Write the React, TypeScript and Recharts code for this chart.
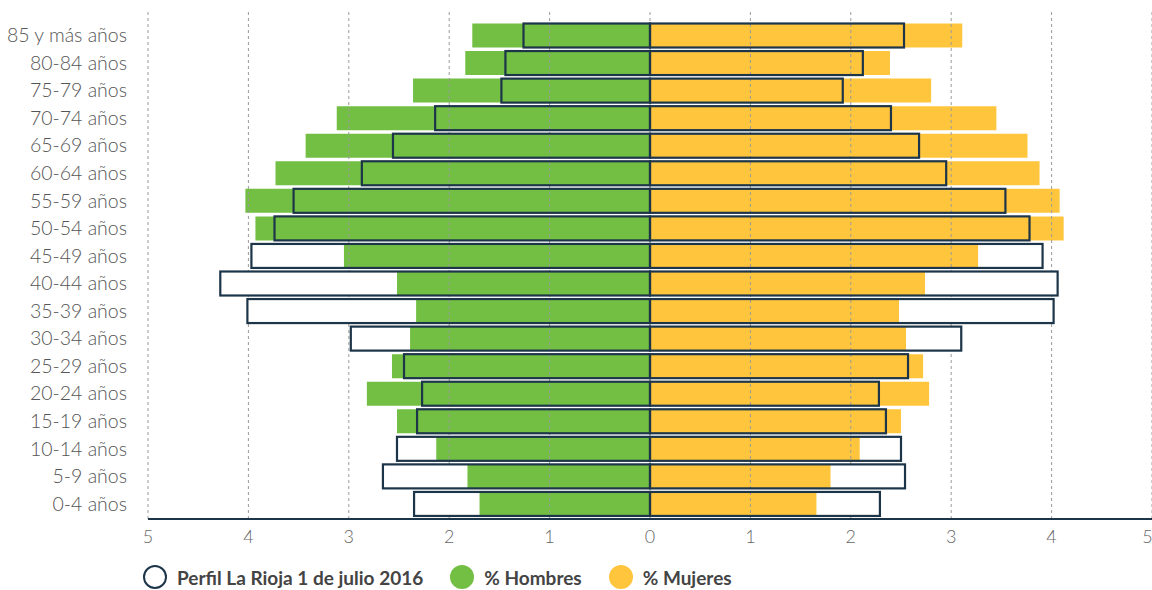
import React from "react";
import {
  BarChart,
  Bar,
  XAxis,
  YAxis,
  CartesianGrid,
  Legend,
} from "recharts";

const FONT = "Lato, 'Open Sans', sans-serif";
const GREEN = "#72bf44";
const YELLOW = "#ffc53d";
const NAVY = "#1d3549";

// grupos de edad, de arriba abajo
const edades = [
  "85 y más años", "80-84 años", "75-79 años", "70-74 años", "65-69 años",
  "60-64 años", "55-59 años", "50-54 años", "45-49 años", "40-44 años",
  "35-39 años", "30-34 años", "25-29 años", "20-24 años", "15-19 años",
  "10-14 años", "5-9 años", "0-4 años",
];
const hombres = [1.77, 1.84, 2.36, 3.12, 3.43, 3.73, 4.03, 3.93, 3.05, 2.52, 2.33, 2.39, 2.57, 2.82, 2.52, 2.13, 1.82, 1.7];
const mujeres = [3.11, 2.39, 2.8, 3.45, 3.76, 3.88, 4.08, 4.12, 3.27, 2.74, 2.48, 2.55, 2.72, 2.78, 2.5, 2.09, 1.8, 1.66];
// perfil La Rioja 1 de julio 2016
const perfilH = [1.26, 1.44, 1.48, 2.14, 2.56, 2.87, 3.55, 3.74, 3.97, 4.28, 4.01, 2.98, 2.45, 2.27, 2.32, 2.52, 2.66, 2.35];
const perfilM = [2.53, 2.12, 1.92, 2.4, 2.68, 2.95, 3.54, 3.78, 3.91, 4.06, 4.02, 3.1, 2.57, 2.28, 2.35, 2.5, 2.54, 2.29];
const xTicks = [-5, -4, -3, -2, -1, 0, 1, 2, 3, 4, 5];

const data = edades.map((name, i) => ({
  name,
  hombres: hombres[i],
  mujeres: mujeres[i],
  perfilH: perfilH[i],
  perfilM: perfilM[i],
  h: -hombres[i],
  m: mujeres[i],
  ph: -perfilH[i],
  pm: perfilM[i],
}));

// outline of the 2016 profile: white where it exceeds the coloured bar, navy border
const perfilShape = (side: "h" | "m") => (props: any) => {
  const { x, y, width, height, payload } = props;
  const x0 = Math.min(x, x + width);
  const w = Math.abs(width);
  const outer = side === "h" ? payload.perfilH : payload.perfilM;
  const inner = side === "h" ? payload.hombres : payload.mujeres;
  let white = null;
  if (inner < outer && w > 0) {
    const ww = w * (1 - inner / outer);
    white = (
      <rect x={side === "h" ? x0 : x0 + w - ww} y={y} width={ww} height={height} fill="#fff" />
    );
  }
  return (
    <g>
      {white}
      <rect x={x0} y={y} width={w} height={height} fill="none" stroke={NAVY} strokeWidth={2.2} />
    </g>
  );
};

const legendItems = [
  { label: "Perfil La Rioja 1 de julio 2016", fill: "#fff", border: NAVY },
  { label: "% Hombres", fill: GREEN, border: GREEN },
  { label: "% Mujeres", fill: YELLOW, border: YELLOW },
];

const renderLegend = () => (
  <div style={{ display: "flex", alignItems: "center", fontFamily: FONT, fontSize: 19, fontWeight: 700, color: "#444" }}>
    {legendItems.map((it) => (
      <div key={it.label} style={{ display: "flex", alignItems: "center", marginRight: 27 }}>
        <span
          style={{
            width: 20,
            height: 20,
            borderRadius: "50%",
            background: it.fill,
            border: `2.5px solid ${it.border}`,
            marginRight: 10,
            display: "inline-block",
          }}
        />
        <span>{it.label}</span>
      </div>
    ))}
  </div>
);

export default function App() {
  return (
    <div style={{ position: "absolute", left: 0, top: 0, width: 1152, height: 590, background: "#fff" }}>
      <BarChart
        width={1152}
        height={590}
        data={data}
        layout="vertical"
        stackOffset="sign"
        margin={{ top: 12, right: 0, left: 0, bottom: 41 }}
      >
        <XAxis
          type="number"
          domain={[-5, 5]}
          ticks={xTicks}
          tickFormatter={(v: number) => String(Math.abs(v))}
          axisLine={{ stroke: NAVY, strokeWidth: 2 }}
          tickLine={false}
          tickSize={0}
          tickMargin={11}
          height={30}
          tick={{ fontSize: 18, fill: "#666", fontFamily: FONT, fontWeight: 300 }}
        />
        <YAxis
          yAxisId="main"
          type="category"
          dataKey="name"
          width={148}
          interval={0}
          axisLine={false}
          tickLine={false}
          tickSize={0}
          tickMargin={21}
          padding={{ top: 9.5, bottom: 1.5 }}
          tick={{ fontSize: 19.5, fill: "#555", fontFamily: FONT, fontWeight: 300 }}
        />
        <YAxis yAxisId="perfil" type="category" dataKey="name" hide padding={{ top: 9.5, bottom: 1.5 }} />
        <Bar yAxisId="main" dataKey="h" stackId="c" fill={GREEN} barSize={24} isAnimationActive={false} />
        <Bar yAxisId="main" dataKey="m" stackId="c" fill={YELLOW} barSize={24} isAnimationActive={false} />
        <CartesianGrid horizontal={false} stroke="#9a9a9a" strokeDasharray="3 3" zIndex={350} />
        <Bar yAxisId="perfil" dataKey="ph" stackId="o" barSize={24} shape={perfilShape("h")} zIndex={400} isAnimationActive={false} />
        <Bar yAxisId="perfil" dataKey="pm" stackId="o" barSize={24} shape={perfilShape("m")} zIndex={400} isAnimationActive={false} />
        <Legend
          layout="horizontal"
          verticalAlign="middle"
          align="center"
          content={renderLegend}
          wrapperStyle={{ left: 143, top: 565, width: "auto", height: "auto" }}
        />
      </BarChart>
    </div>
  );
}
